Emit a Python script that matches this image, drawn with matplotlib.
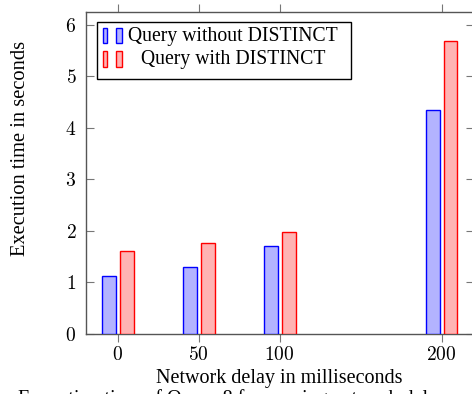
import matplotlib
matplotlib.use("Agg")
import matplotlib.pyplot as plt
from matplotlib.patches import Rectangle

# data
delays = [0, 50, 100, 200]
without_distinct = [1.12, 1.31, 1.71, 4.35]
with_distinct = [1.62, 1.77, 1.98, 5.69]
yticks = [0, 1, 2, 3, 4, 5, 6]
labels = ["Query without DISTINCT", "Query with DISTINCT"]

plt.rcParams["font.family"] = ["Liberation Serif", "DejaVu Serif"]
plt.rcParams["mathtext.fontset"] = "cm"

W, H = 472, 394
fig = plt.figure(figsize=(W / 100, H / 100), dpi=100)
ax = fig.add_axes([86 / W, 1 - 334 / H, (474 - 86) / W, (334 - 12) / H])

blue_f, blue_e = (0.7, 0.7, 1.0), "blue"
red_f, red_e = (1.0, 0.7, 0.7), "red"
bw, off = 8.6, 5.5
ax.bar([d - off for d in delays], without_distinct, width=bw, color=blue_f, edgecolor=blue_e, linewidth=1, zorder=3)
ax.bar([d + off for d in delays], with_distinct, width=bw, color=red_f, edgecolor=red_e, linewidth=1, zorder=3)

ax.set_xlim(-19.6, 220)
ax.set_ylim(0, 6.25)
ax.set_xticks(delays, [f"${d}$" for d in delays])
ax.set_yticks(yticks, [f"${v}$" for v in yticks])
ax.tick_params(axis="x", direction="out", top=True, length=6, color="#777", labelsize=14, pad=3)
ax.tick_params(axis="y", direction="in", right=True, length=6, color="#777", labelsize=14, pad=7)
for s in ax.spines.values():
    s.set_color("#555")
    s.set_linewidth(1)

# axis labels / caption placed in pixel coordinates
def fx(x): return x / W
def fy(y): return 1 - y / H

fig.text(fx(279), fy(378), "Network delay in milliseconds", ha="center", va="center", fontsize=14.5)
fig.text(fx(21), fy(148), "Execution time in seconds", ha="center", va="center", rotation=90, fontsize=14.8)
fig.text(fx(18), fy(404), "Execution time of Query 8 for varying network delay", ha="left", va="baseline", fontsize=14.5)

# pgfplots-style legend box
fig.patches.append(Rectangle((fx(97), fy(79)), (351 - 97) / W, (79 - 22) / H, transform=fig.transFigure,
                             facecolor="white", edgecolor="black", linewidth=1, zorder=5))
for row, (fc, ec, lab) in enumerate([(blue_f, blue_e, labels[0]), (red_f, red_e, labels[1])]):
    y0 = 28 + row * 23.5
    for x0, w in [(103, 4), (116, 5.5)]:
        fig.patches.append(Rectangle((fx(x0), fy(y0 + 15)), w / W, 15 / H, transform=fig.transFigure,
                                     facecolor=fc, edgecolor=ec, linewidth=1, zorder=6))
    fig.text(fx(233), fy(y0 + 8), lab, ha="center", va="center", fontsize=14.2, zorder=7)

fig.savefig("out.png", dpi=100)
